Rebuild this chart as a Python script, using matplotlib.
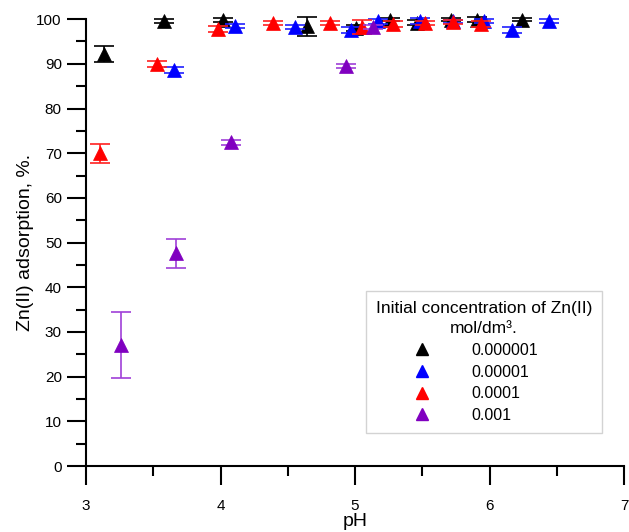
import numpy as np
import matplotlib
matplotlib.use("Agg")
import matplotlib.pyplot as plt
from matplotlib.ticker import MultipleLocator
from matplotlib.lines import Line2D

plt.rcParams['font.family'] = ['Liberation Sans', 'DejaVu Sans']

# Initial Zn(II) concentration, mol/dm3
labels = ['0.000001', '0.00001', '0.0001', '0.001']
colors = ['#000000', '#0000FF', '#FF0000', '#8000C0']
ecolors = ['#000000', '#2020FF', '#FF2020', '#A040D8']

ph_1e6 = [3.13, 3.58, 4.02, 4.64, 5.01, 5.26, 5.46, 5.71, 5.91, 6.24]
ads_1e6 = [92.2, 99.6, 99.8, 98.4, 98.0, 99.9, 99.2, 99.9, 99.9, 99.9]
err_1e6 = [1.7, 0.5, 0.5, 2.1, 0.6, 0.4, 0.5, 0.4, 0.5, 0.4]

ph_1e5 = [3.65, 4.11, 4.55, 4.97, 5.17, 5.48, 5.73, 5.96, 6.17, 6.44]
ads_1e5 = [88.7, 98.5, 98.3, 97.6, 99.5, 99.6, 99.5, 99.6, 97.6, 99.6]
err_1e5 = [0.7, 0.5, 0.5, 0.7, 0.5, 0.6, 0.4, 0.4, 0.7, 0.4]

ph_1e4 = [3.10, 3.53, 3.98, 4.39, 4.81, 5.05, 5.28, 5.52, 5.73, 5.94]
ads_1e4 = [70.0, 90.0, 97.8, 99.1, 99.1, 98.2, 98.9, 99.1, 99.4, 98.9]
err_1e4 = [2.1, 0.7, 0.7, 0.5, 0.5, 1.6, 0.6, 0.5, 0.5, 0.6]

ph_1e3 = [3.26, 3.67, 4.08, 4.93, 5.13]
ads_1e3 = [27.1, 47.6, 72.4, 89.5, 98.3]
err_1e3 = [7.4, 3.2, 0.5, 0.5, 0.5]

series = [(ph_1e6, ads_1e6, err_1e6),
          (ph_1e5, ads_1e5, err_1e5),
          (ph_1e4, ads_1e4, err_1e4),
          (ph_1e3, ads_1e3, err_1e3)]

fig = plt.figure(figsize=(6.29, 5.32), dpi=100)
ax = fig.add_axes([0.137, 0.124, 0.855, 0.84])

handles = []
for (x, y, e), lab, c, ec in zip(series, labels, colors, ecolors):
    ax.errorbar(x, y, yerr=e, fmt='none', ecolor=ec, elinewidth=1.2,
                capsize=7, capthick=1.2, clip_on=False)
    ax.plot(x, y, '^', color=c, markersize=10, markeredgecolor=c,
            markeredgewidth=0.5, clip_on=False)
    handles.append(Line2D([], [], marker='^', linestyle='none', color=c,
                          markersize=9, label=lab))

ax.set_xlim(3, 7)
ax.set_ylim(0, 100)
ax.xaxis.set_major_locator(MultipleLocator(1))
ax.xaxis.set_minor_locator(MultipleLocator(0.5))
ax.yaxis.set_major_locator(MultipleLocator(10))
ax.yaxis.set_minor_locator(MultipleLocator(5))
ax.spines['top'].set_visible(False)
ax.spines['right'].set_visible(False)
for s in ['left', 'bottom']:
    ax.spines[s].set_linewidth(1.5)
ax.tick_params(which='major', direction='out', length=14, width=1.5, labelsize=11)
ax.tick_params(which='minor', direction='out', length=7, width=1.5)
ax.tick_params(axis='x', pad=10)

ax.set_xlabel('pH', fontsize=14, labelpad=0)
ax.set_ylabel('Zn(II) adsorption, %.', fontsize=14, labelpad=2)

leg = ax.legend(handles=handles, title='Initial concentration of Zn(II)\nmol/dm³.',
                loc='lower right', bbox_to_anchor=(0.959, 0.074), borderaxespad=0,
                fontsize=11.5, title_fontsize=12.5, fancybox=False,
                edgecolor='#C8C8C8', alignment='left', handletextpad=0.25,
                handlelength=5.75, borderpad=0.62, labelspacing=0.42)
leg.get_title().set_multialignment('center')
leg.get_title().set_linespacing(1.45)

fig.savefig('out.png', dpi=100)
